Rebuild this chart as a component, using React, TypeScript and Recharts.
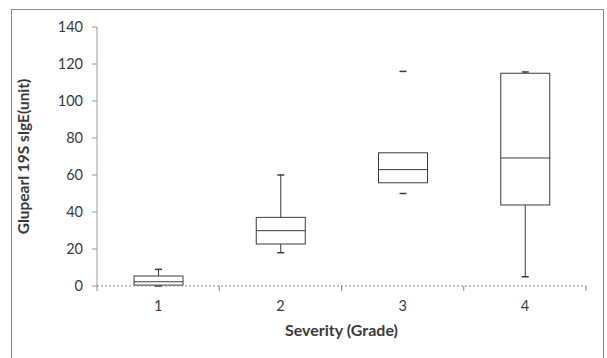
import { Bar, ComposedChart, XAxis, YAxis } from "recharts";

const grades = ["1", "2", "3", "4"];
const minValues = [0, 18, 50, 5];
const q1Values = [0.5, 22.7, 55.8, 43.8];
const medianValues = [2.3, 29.9, 62.9, 69.2];
const q3Values = [5.4, 37.1, 72, 115];
const maxValues = [9, 60, 116, 115.7];
const whiskerLines = [true, true, false, true];
const yTicks = [0, 20, 40, 60, 80, 100, 120, 140];

const data = grades.map((g, i) => ({
  grade: g,
  idx: i + 0.5,
  range: [minValues[i], maxValues[i]],
  min: minValues[i],
  q1: q1Values[i],
  median: medianValues[i],
  q3: q3Values[i],
  max: maxValues[i],
  whisker: whiskerLines[i],
}));

const ink = "#3a3a3a";
const font = "Lato, 'Open Sans', sans-serif";

function BoxShape(props: any) {
  const { x, y, width, height, payload } = props;
  const { min, q1, median, q3, max, whisker } = payload;
  const span = max - min || 1;
  const py = (v: number) => y + (height * (max - v)) / span;
  const cx = x + width / 2;
  const cap = 3.5;
  return (
    <g stroke={ink} strokeWidth={1} fill="none">
      {whisker && <line x1={cx} x2={cx} y1={py(max)} y2={py(q3)} />}
      {whisker && <line x1={cx} x2={cx} y1={py(q1)} y2={py(min)} />}
      <line x1={cx - cap} x2={cx + cap} y1={py(max)} y2={py(max)} strokeWidth={1.5} />
      <line x1={cx - cap} x2={cx + cap} y1={py(min)} y2={py(min)} strokeWidth={1.5} />
      <rect x={x} y={py(q3)} width={width} height={py(q1) - py(q3)} fill="#fff" />
      <line x1={x} x2={x + width} y1={py(median)} y2={py(median)} />
    </g>
  );
}

function YTitle(props: any) {
  const { viewBox } = props;
  const x = viewBox.x + 23;
  const y = viewBox.y + viewBox.height / 2;
  return (
    <text
      x={x}
      y={y}
      transform={`rotate(-90, ${x}, ${y})`}
      textAnchor="middle"
      dominantBaseline="central"
      fontFamily={font}
      fontWeight="bold"
      fontSize={15.5}
      fill={ink}
    >
      Glupearl 19S sIgE(unit)
    </text>
  );
}

export default function App() {
  return (
    <div style={{ position: "fixed", left: 0, top: 0, width: 607, height: 358, background: "#fff" }}>
      <div
        style={{
          position: "absolute",
          left: 11,
          top: 9,
          width: 591,
          height: 360,
          border: "1px solid #8a8a8a",
        }}
      />
      <div style={{ position: "absolute", left: 0, top: 0 }}>
        <ComposedChart
          width={607}
          height={358}
          data={data}
          margin={{ top: 27, right: 21, bottom: 0, left: 0 }}
        >
          <XAxis
            xAxisId="a-edges"
            type="number"
            dataKey="idx"
            domain={[0, 4]}
            ticks={[0, 1, 2, 3, 4]}
            interval={0}
            axisLine={{ stroke: "#888", strokeDasharray: "2 2" }}
            tickFormatter={() => ""}
            tickSize={5}
            tickLine={{ stroke: "#888" }}
            height={1}
          />
          <XAxis
            dataKey="grade"
            xAxisId="b-cat"
            height={71}
            axisLine={false}
            tickLine={false}
            tick={{ fill: ink, fontSize: 14.5, fontFamily: font }}
            tickMargin={8}
            label={{
              value: "Severity (Grade)",
              position: "insideBottom",
              offset: 22,
              fill: ink,
              fontSize: 16,
              fontWeight: "bold",
              fontFamily: font,
            }}
          />
          <YAxis
            width={97}
            domain={[0, 140]}
            ticks={yTicks}
            interval={0}
            axisLine={{ stroke: "#999" }}
            tickLine={{ stroke: "#999" }}
            tickSize={5}
            tickMargin={9}
            tick={{ fill: ink, fontSize: 14.5, fontFamily: font }}
            label={<YTitle />}
          />
          <Bar
            xAxisId="b-cat"
            dataKey="range"
            barSize={49}
            shape={<BoxShape />}
            isAnimationActive={false}
          />
        </ComposedChart>
      </div>
    </div>
  );
}
